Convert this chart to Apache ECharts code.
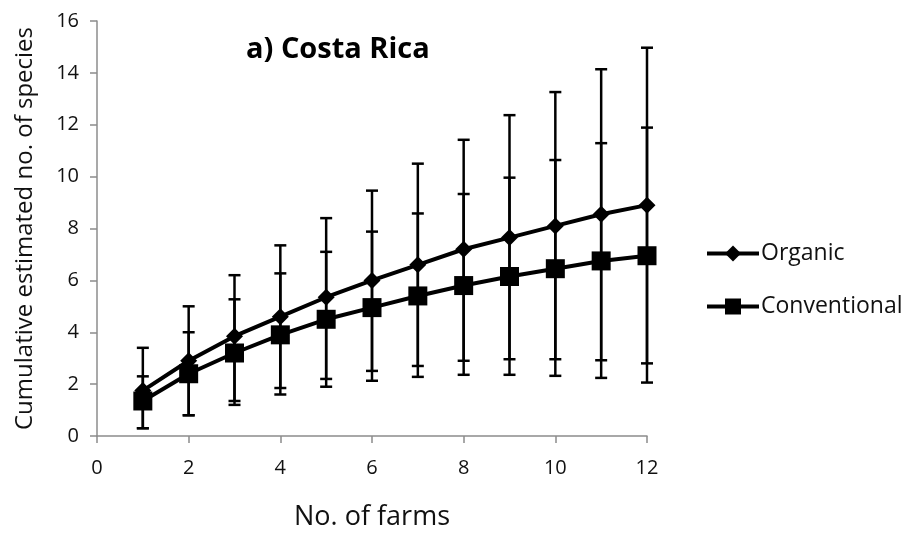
<!DOCTYPE html>
<html>
<head>
<meta charset="utf-8">
<script src="https://cdn.jsdelivr.net/npm/echarts@6/dist/echarts.min.js"></script>
<style>
    html, body { margin: 0; padding: 0; background: #fff; }
    #chart { width: 908px; height: 536px; }
</style>
</head>
<body>
<div id="chart"></div>
<script>
// farms count (x) and estimated species
const farms = [1, 2, 3, 4, 5, 6, 7, 8, 9, 10, 11, 12];
const organic = [1.75, 2.9, 3.85, 4.6, 5.35, 6.0, 6.6, 7.2, 7.65, 8.1, 8.55, 8.9];
const organicHigh = [3.4, 5.0, 6.2, 7.35, 8.4, 9.46, 10.5, 11.42, 12.37, 13.26, 14.14, 14.97];
const organicLow = [0.3, 0.8, 1.35, 1.85, 2.2, 2.51, 2.7, 2.9, 2.96, 2.96, 2.92, 2.8];
const conventional = [1.35, 2.4, 3.2, 3.9, 4.5, 4.95, 5.4, 5.8, 6.15, 6.45, 6.75, 6.95];
const conventionalHigh = [2.3, 4.0, 5.27, 6.27, 7.1, 7.88, 8.58, 9.33, 9.96, 10.64, 11.29, 11.89];
const conventionalLow = [0.3, 0.8, 1.2, 1.6, 1.9, 2.13, 2.28, 2.36, 2.36, 2.32, 2.24, 2.06];

const font = '"Open Sans", Lato, sans-serif';
const axisGray = '#8c8c8c';

const chart = echarts.init(document.getElementById('chart'));

function errorBars(low, high) {
    return {
        type: 'custom',
        silent: true,
        z: 1,
        data: farms.map((f, i) => [f, low[i], high[i]]),
        renderItem(params, api) {
            const lo = api.coord([api.value(0), api.value(1)]);
            const hi = api.coord([api.value(0), api.value(2)]);
            const cap = 6;
            const style = { stroke: '#000', lineWidth: 2.5 };
            return {
                type: 'group',
                children: [
                    { type: 'line', shape: { x1: lo[0], y1: lo[1], x2: hi[0], y2: hi[1] }, style },
                    { type: 'line', shape: { x1: lo[0] - cap, y1: lo[1], x2: lo[0] + cap, y2: lo[1] }, style },
                    { type: 'line', shape: { x1: hi[0] - cap, y1: hi[1], x2: hi[0] + cap, y2: hi[1] }, style }
                ]
            };
        }
    };
}

const option = {
    animation: false,
    backgroundColor: '#fff',
    textStyle: { fontFamily: font },
    title: {
        text: 'a) Costa Rica',
        left: 241,
        top: 30,
        textStyle: { fontFamily: font, fontSize: 29, fontWeight: 'bold', color: '#000' }
    },
    grid: { left: 97, right: 261, top: 21, bottom: 98 },
    legend: {
        data: ['Organic', 'Conventional'],
        orient: 'vertical',
        left: 700,
        top: 237,
        itemGap: 30,
        itemWidth: 52,
        itemHeight: 20,
        lineStyle: { width: 4 },
        textStyle: { fontFamily: font, fontSize: 23, color: '#111', padding: [0, 0, 0, -3] }
    },
    xAxis: {
        type: 'value',
        min: 0,
        max: 12,
        interval: 2,
        name: 'No. of farms',
        nameLocation: 'middle',
        nameGap: 68,
        nameTextStyle: { fontFamily: font, fontSize: 27, color: '#111' },
        axisLine: { lineStyle: { color: axisGray, width: 1.5 } },
        axisTick: { show: true, length: 7, lineStyle: { color: axisGray, width: 1.5 } },
        axisLabel: { fontFamily: font, fontSize: 20, color: '#111', margin: 22 },
        splitLine: { show: false }
    },
    yAxis: {
        type: 'value',
        min: 0,
        max: 16,
        interval: 2,
        name: 'Cumulative estimated no. of species',
        nameLocation: 'middle',
        nameGap: 60,
        nameTextStyle: { fontFamily: font, fontSize: 24, color: '#111' },
        axisLine: { show: true, lineStyle: { color: axisGray, width: 1.5 } },
        axisTick: { show: true, length: 7, lineStyle: { color: axisGray, width: 1.5 } },
        axisLabel: { fontFamily: font, fontSize: 20, color: '#111', margin: 18 },
        splitLine: { show: false }
    },
    series: [
        errorBars(organicLow, organicHigh),
        errorBars(conventionalLow, conventionalHigh),
        {
            name: 'Organic',
            type: 'line',
            z: 3,
            data: farms.map((f, i) => [f, organic[i]]),
            symbol: 'diamond',
            symbolSize: 17,
            lineStyle: { color: '#000', width: 4 },
            itemStyle: { color: '#000' }
        },
        {
            name: 'Conventional',
            type: 'line',
            z: 3,
            data: farms.map((f, i) => [f, conventional[i]]),
            symbol: 'rect',
            symbolSize: 19,
            lineStyle: { color: '#000', width: 4 },
            itemStyle: { color: '#000' }
        }
    ]
};

chart.setOption(option);
</script>
</body>
</html>
